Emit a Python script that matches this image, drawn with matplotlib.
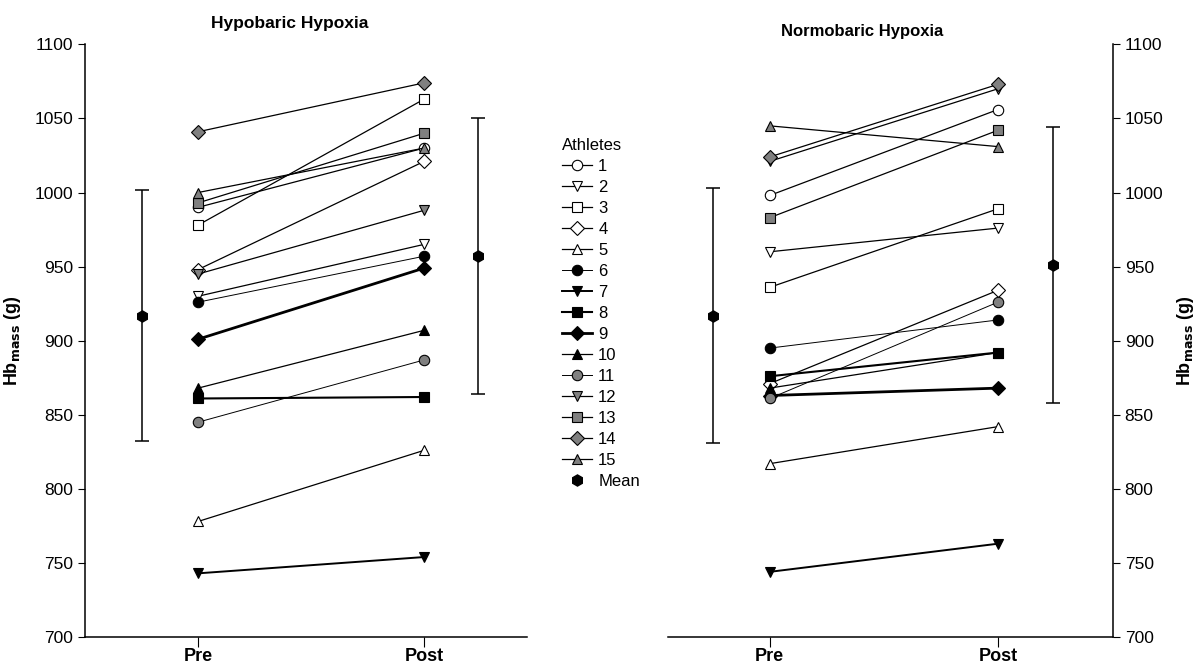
import matplotlib
matplotlib.use("Agg")
import matplotlib.pyplot as plt
from matplotlib.lines import Line2D

plt.rcParams['font.family'] = ['Liberation Sans', 'DejaVu Sans']

athletes = [str(i) for i in range(1, 16)]
times = ["Pre", "Post"]

# Hb mass (g) per athlete
hypo_pre = [990, 930, 978, 948, 778, 926, 743, 861, 901, 868, 845, 945, 993, 1041, 1000]
hypo_post = [1030, 965, 1063, 1021, 826, 957, 754, 862, 949, 907, 887, 988, 1040, 1074, 1030]
normo_pre = [998, 960, 936, 871, 817, 895, 744, 876, 863, 868, 861, 1021, 983, 1024, 1045]
normo_post = [1056, 976, 989, 934, 842, 914, 763, 892, 868, 892, 926, 1070, 1042, 1073, 1031]

# group mean and SD
hypo_mean = [917, 957]
hypo_sd = [85, 93]
normo_mean = [917, 951]
normo_sd = [86, 93]

yticks = [700, 750, 800, 850, 900, 950, 1000, 1050, 1100]

markers = ['o', 'v', 's', 'D', '^'] * 3
fills = ['white'] * 5 + ['black'] * 5 + ['#808080'] * 5
widths = [0.9, 0.9, 0.9, 0.9, 0.9, 0.7, 1.4, 1.5, 2.0, 0.9, 0.7, 0.9, 0.9, 0.9, 0.9]


def draw_panel(ax, pre, post, mean, sd, xlim):
    for i in range(len(athletes)):
        ax.plot([1, 2], [pre[i], post[i]], color='black', lw=widths[i],
                marker=markers[i], markersize=7.5, markerfacecolor=fills[i],
                markeredgecolor='black', markeredgewidth=0.8, zorder=3)
    ax.errorbar([0.75, 2.24], mean, yerr=sd, fmt='h', color='black',
                markersize=8, capsize=5, capthick=1.1, elinewidth=1.1, zorder=3)
    ax.set_xlim(xlim)
    ax.set_ylim(700, 1100)
    ax.set_yticks(yticks)
    ax.set_xticks([1, 2])
    ax.set_xticklabels(times, fontsize=13, fontweight='bold')
    ax.tick_params(axis='y', labelsize=12.5, length=5, direction='out')
    ax.tick_params(axis='x', length=7, direction='out', pad=1)
    ax.spines['top'].set_visible(False)
    for s in ax.spines.values():
        s.set_linewidth(1.1)


fig = plt.figure(figsize=(11.98, 6.72), dpi=100)
ax1 = fig.add_axes([0.071, 0.052, 0.369, 0.882])
ax2 = fig.add_axes([0.558, 0.052, 0.371, 0.882])

draw_panel(ax1, hypo_pre, hypo_post, hypo_mean, hypo_sd, (0.5, 2.456))
ax1.spines['right'].set_visible(False)
ax1.set_ylabel(r'Hb$_{\mathbf{mass}}$ (g)', fontsize=13, fontweight='bold', labelpad=8)

draw_panel(ax2, normo_pre, normo_post, normo_mean, normo_sd, (0.557, 2.504))
ax2.spines['left'].set_visible(False)
ax2.yaxis.tick_right()
ax2.yaxis.set_label_position('right')
ax2.set_ylabel(r'Hb$_{\mathbf{mass}}$ (g)', fontsize=13, fontweight='bold',
               labelpad=8, rotation=90)

fig.text(0.242, 0.965, 'Hypobaric Hypoxia', ha='center', va='center',
         fontsize=12.5, fontweight='bold')
fig.text(0.720, 0.953, 'Normobaric Hypoxia', ha='center', va='center',
         fontsize=12, fontweight='bold')

handles = []
for i in range(len(athletes)):
    handles.append(Line2D([], [], color='black', lw=widths[i], marker=markers[i],
                          markersize=7.5, markerfacecolor=fills[i],
                          markeredgecolor='black', markeredgewidth=0.8))
handles.append(Line2D([], [], color='black', lw=0, marker='h', markersize=8))
leg = fig.legend(handles, athletes + ['Mean'], title='Athletes', loc='upper left',
                 bbox_to_anchor=(0.459, 0.812), frameon=False, fontsize=12,
                 title_fontsize=12, handlelength=1.8, labelspacing=0.36,
                 handletextpad=0.4, alignment='left', borderpad=0.2)

fig.savefig('out.png', dpi=100)
